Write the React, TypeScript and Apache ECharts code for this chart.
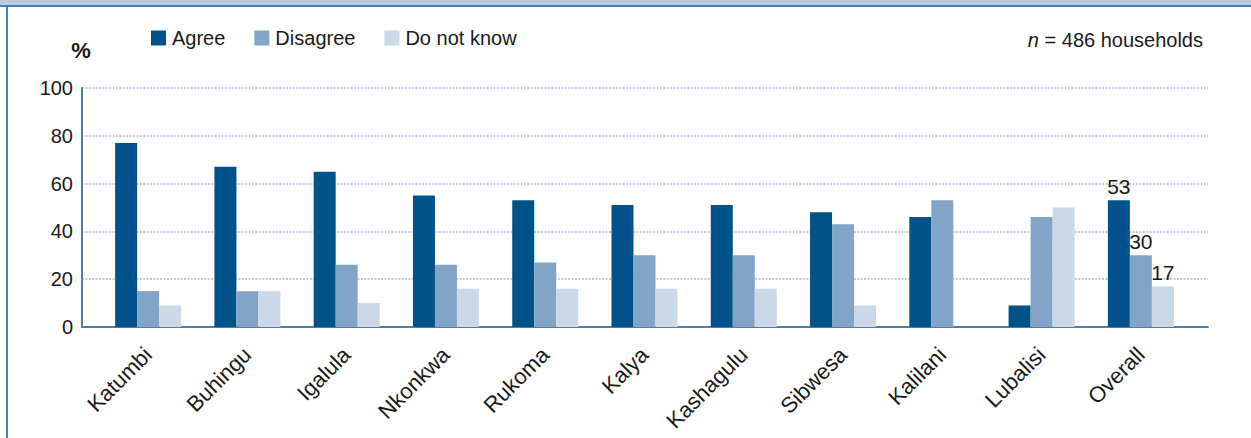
import React, { useEffect, useRef } from "react";
import * as echarts from "echarts";

const categories = [
  "Katumbi", "Buhingu", "Igalula", "Nkonkwa", "Rukoma", "Kalya",
  "Kashagulu", "Sibwesa", "Kalilani", "Lubalisi", "Overall",
];
const agree = [77, 67, 65, 55, 53, 51, 51, 48, 46, 9, 53];
const disagree = [15, 15, 26, 26, 27, 30, 30, 43, 53, 46, 30];
const doNotKnow = [9, 15, 10, 16, 16, 16, 16, 9, 0, 50, 17];
const seriesNames = ["Agree", "Disagree", "Do not know"];
const seriesColors = ["#00538a", "#82a5c7", "#cbd8e8"];
const yTicks = { min: 0, max: 100, interval: 20 };

const FONT = "'Liberation Sans', Arial, sans-serif";
const TEXT = "#1a1a1a";
const FRAME = "#4a80ad";

export default function App() {
  const ref = useRef<HTMLDivElement>(null);
  useEffect(() => {
    if (!ref.current) return;
    const chart = echarts.init(ref.current, null, { renderer: "svg" });
    const lastIdx = categories.length - 1;
    const mkData = (vals: number[]) =>
      vals.map((v, i) =>
        i === lastIdx
          ? {
              value: v,
              label: {
                show: true,
                position: "top",
                distance: 3,
                fontSize: 21,
                color: TEXT,
                fontFamily: FONT,
              },
            }
          : v
      );
    const allSeries = [agree, disagree, doNotKnow];
    chart.setOption({
      animation: false,
      textStyle: { fontFamily: FONT, color: TEXT },
      title: {
        text: "{i|n} = 486 households",
        right: 43,
        top: 25,
        textStyle: {
          fontSize: 20,
          fontWeight: "normal",
          color: TEXT,
          fontFamily: FONT,
          rich: { i: { fontStyle: "italic", fontSize: 20, color: TEXT, fontFamily: FONT } },
        },
      },
      legend: {
        left: 146,
        top: 23,
        itemWidth: 15,
        itemHeight: 15,
        itemGap: 29,
        icon: "rect",
        data: seriesNames,
        textStyle: { fontSize: 20, color: TEXT, fontFamily: FONT, padding: [0, 0, 0, 1] },
      },
      graphic: [
        { type: "rect", shape: { x: 0, y: 0, width: 1251, height: 5 }, style: { fill: "#b7cbe1" } },
        { type: "rect", shape: { x: 0, y: 5, width: 1251, height: 2 }, style: { fill: FRAME } },
        { type: "rect", shape: { x: 6, y: 5, width: 2, height: 433 }, style: { fill: FRAME } },
        {
          type: "text",
          x: 81,
          y: 50,
          style: {
            text: "%",
            fill: TEXT,
            font: `bold 22px ${FONT}`,
            align: "center",
            verticalAlign: "middle",
          },
        },
      ],
      grid: [
        { left: 82, top: 88, width: 1126, height: 239 },
        { left: 98.5, top: 88, width: 1092, height: 239 },
      ],
      xAxis: [
        {
          gridIndex: 0,
          type: "value",
          min: 0,
          max: 1,
          axisLine: { show: true, lineStyle: { color: FRAME, width: 2 } },
          axisTick: { show: false },
          axisLabel: { show: false },
          splitLine: { show: false },
        },
        {
          gridIndex: 1,
          type: "category",
          data: categories,
          axisLine: { show: false },
          axisTick: { show: false },
          axisLabel: {
            rotate: 45,
            margin: 24,
            fontSize: 22,
            color: TEXT,
            fontFamily: FONT,
            interval: 0,
          },
        },
      ],
      yAxis: [
        {
          gridIndex: 0,
          type: "value",
          min: yTicks.min,
          max: yTicks.max,
          interval: yTicks.interval,
          axisLine: { show: true, lineStyle: { color: FRAME, width: 2 } },
          axisTick: { show: false },
          axisLabel: { fontSize: 20, color: TEXT, margin: 9, fontFamily: FONT },
          splitLine: {
            show: true,
            lineStyle: { color: "#bccbe2", width: 2, type: [2, 1.4] },
          },
        },
        {
          gridIndex: 1,
          type: "value",
          min: yTicks.min,
          max: yTicks.max,
          show: false,
          splitLine: { show: false },
        },
      ],
      series: allSeries.map((vals, k) => ({
        name: seriesNames[k],
        type: "bar",
        xAxisIndex: 1,
        yAxisIndex: 1,
        barWidth: 22,
        barGap: "0%",
        itemStyle: { color: seriesColors[k] },
        data: mkData(vals),
      })),
    });
    return () => chart.dispose();
  }, []);
  return (
    <div
      ref={ref}
      style={{ position: "absolute", left: 0, top: 0, width: 1251, height: 438, background: "#fff" }}
    />
  );
}
